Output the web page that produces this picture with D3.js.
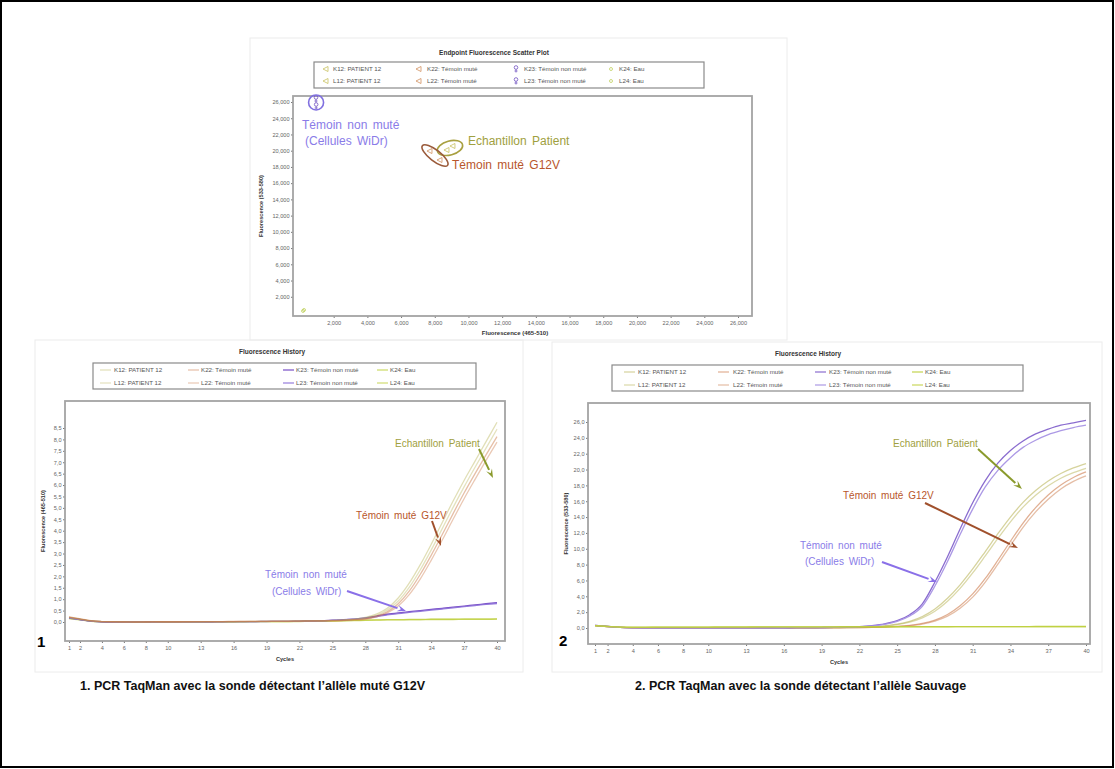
<!DOCTYPE html>
<html>
<head>
<meta charset="utf-8">
<script src="https://cdn.jsdelivr.net/npm/d3@7"></script>
<style>
body { margin: 0; background: #fff; }
svg { display: block; font-family: "Liberation Sans", Arial, sans-serif; }
</style>
</head>
<body>
<svg id="fig" width="1115" height="769"></svg>
<script>
// wells, same order in every legend
var wells = ["K12: PATIENT 12", "L12: PATIENT 12", "K22: Témoin muté", "L22: Témoin muté",
             "K23: Témoin non muté", "L23: Témoin non muté", "K24: Eau", "L24: Eau"];

var cycles = [1,2,3,4,5,6,7,8,9,10,11,12,13,14,15,16,17,18,19,20,
              21,22,23,24,25,26,27,28,29,30,31,32,33,34,35,36,37,38,39,40];
var cycleTicks = [1,2,4,6,8,10,13,16,19,22,25,28,31,34,37,40];

// endpoint scatter (465-510 vs 533-580)
var endX = [8725, 9080, 7716, 8310, 950, 960, 180, 240];
var endY = [20085, 20580, 19960, 18850, 26370, 25510, 250, 370];
var scatterTicks = [2000,4000,6000,8000,10000,12000,14000,16000,18000,20000,22000,24000,26000];

// fluorescence history, probe for mutated allele (465-510)
var mutTicks = [0,0.5,1,1.5,2,2.5,3,3.5,4,4.5,5,5.5,6,6.5,7,7.5,8,8.5];
var mutK12 = [0.20,0.13,0.05,0.02,0.01,0.01,0.00,0.00,0.01,0.01, 0.01,0.01,0.01,0.02,0.02,0.02,0.02,0.03,0.03,0.03,
              0.04,0.04,0.05,0.06,0.07,0.09,0.13,0.20,0.35,0.60, 1.05,1.70,2.50,3.40,4.35,5.30,6.20,7.05,7.90,8.75];
var mutL12 = [0.19,0.12,0.05,0.02,0.01,0.00,0.00,0.00,0.01,0.01, 0.01,0.01,0.01,0.01,0.02,0.02,0.02,0.02,0.03,0.03,
              0.03,0.04,0.05,0.05,0.06,0.08,0.11,0.16,0.30,0.52, 0.92,1.52,2.28,3.15,4.08,5.02,5.92,6.78,7.62,8.45];
var mutK22 = [0.22,0.14,0.06,0.02,0.01,0.01,0.00,0.01,0.01,0.01, 0.01,0.02,0.02,0.02,0.02,0.03,0.03,0.03,0.03,0.04,
              0.04,0.04,0.05,0.05,0.06,0.07,0.10,0.14,0.26,0.45, 0.80,1.35,2.08,2.92,3.82,4.75,5.65,6.50,7.32,8.12];
var mutL22 = [0.21,0.13,0.05,0.02,0.01,0.00,0.00,0.00,0.01,0.01, 0.01,0.01,0.02,0.02,0.02,0.02,0.03,0.03,0.03,0.03,
              0.03,0.04,0.04,0.05,0.05,0.06,0.09,0.12,0.22,0.40, 0.70,1.20,1.88,2.70,3.58,4.50,5.40,6.25,7.08,7.88];
var mutK23 = [0.18,0.11,0.04,0.01,0.00,0.00,0.00,0.00,0.01,0.01, 0.01,0.01,0.01,0.01,0.02,0.02,0.02,0.02,0.03,0.03,
              0.03,0.04,0.05,0.06,0.08,0.10,0.13,0.18,0.26,0.34, 0.40,0.45,0.50,0.55,0.60,0.65,0.70,0.75,0.80,0.85];
var mutL23 = [0.17,0.10,0.04,0.01,0.00,0.00,0.00,0.00,0.00,0.01, 0.01,0.01,0.01,0.01,0.01,0.02,0.02,0.02,0.02,0.03,
              0.03,0.03,0.04,0.05,0.07,0.09,0.12,0.16,0.23,0.31, 0.37,0.42,0.47,0.52,0.57,0.62,0.67,0.72,0.77,0.81];
var mutK24 = [0.16,0.10,0.04,0.01,0.00,0.00,0.00,0.00,0.00,0.00, 0.01,0.01,0.01,0.01,0.01,0.01,0.02,0.02,0.02,0.02,
              0.02,0.03,0.03,0.04,0.05,0.06,0.07,0.08,0.09,0.10, 0.10,0.11,0.11,0.12,0.12,0.12,0.13,0.13,0.13,0.14];
var mutL24 = [0.15,0.09,0.03,0.01,0.00,0.00,0.00,0.00,0.00,0.00, 0.00,0.01,0.01,0.01,0.01,0.01,0.01,0.02,0.02,0.02,
              0.02,0.02,0.03,0.03,0.04,0.05,0.06,0.07,0.08,0.09, 0.09,0.10,0.10,0.11,0.11,0.11,0.12,0.12,0.12,0.13];

// fluorescence history, probe for wild type allele (533-580)
var wtTicks = [0,2,4,6,8,10,12,14,16,18,20,22,24,26];
var wtK12 = [0.30,0.18,0.08,0.03,0.02,0.01,0.01,0.01,0.01,0.01, 0.01,0.01,0.02,0.02,0.02,0.02,0.03,0.03,0.04,0.05,
             0.07,0.10,0.16,0.28,0.48,0.85,1.45,2.40,3.75,5.45, 7.45,9.65,11.90,14.00,15.85,17.35,18.55,19.50,20.20,20.75];
var wtL12 = [0.28,0.17,0.07,0.03,0.02,0.01,0.01,0.01,0.01,0.01, 0.01,0.01,0.01,0.02,0.02,0.02,0.03,0.03,0.04,0.05,
             0.06,0.09,0.14,0.24,0.42,0.74,1.28,2.12,3.38,5.00, 6.95,9.10,11.30,13.40,15.25,16.75,17.95,18.90,19.60,20.15];
var wtK22 = [0.32,0.19,0.08,0.03,0.02,0.01,0.01,0.01,0.01,0.01, 0.01,0.01,0.01,0.02,0.02,0.02,0.02,0.03,0.03,0.04,
             0.04,0.06,0.08,0.12,0.20,0.34,0.58,1.00,1.70,2.80, 4.30,6.25,8.55,10.95,13.25,15.20,16.80,18.05,19.00,19.70];
var wtL22 = [0.31,0.18,0.08,0.03,0.02,0.01,0.01,0.01,0.01,0.01, 0.01,0.01,0.01,0.01,0.02,0.02,0.02,0.02,0.03,0.03,
             0.04,0.05,0.07,0.10,0.17,0.29,0.50,0.88,1.50,2.50, 3.90,5.80,8.05,10.40,12.70,14.65,16.25,17.55,18.50,19.20];
var wtK23 = [0.34,0.20,0.09,0.04,0.02,0.01,0.01,0.01,0.01,0.01, 0.02,0.02,0.02,0.02,0.03,0.03,0.04,0.05,0.06,0.08,
             0.11,0.17,0.30,0.52,0.92,1.68,3.05,5.80,9.00,12.50, 15.80,18.60,20.80,22.40,23.60,24.50,25.10,25.60,25.90,26.20];
var wtL23 = [0.33,0.19,0.08,0.03,0.02,0.01,0.01,0.01,0.01,0.01, 0.01,0.02,0.02,0.02,0.02,0.03,0.04,0.04,0.05,0.07,
             0.10,0.15,0.27,0.47,0.84,1.52,2.75,5.30,8.40,11.80, 15.00,17.80,19.90,21.50,22.80,23.70,24.40,24.90,25.30,25.60];
var wtK24 = [0.30,0.20,0.12,0.10,0.10,0.11,0.11,0.12,0.12,0.12, 0.13,0.13,0.13,0.14,0.14,0.14,0.15,0.15,0.15,0.15,
             0.16,0.16,0.16,0.16,0.17,0.17,0.17,0.17,0.17,0.18, 0.18,0.18,0.18,0.18,0.18,0.19,0.19,0.19,0.19,0.19];
var wtL24 = [0.29,0.19,0.11,0.09,0.09,0.10,0.10,0.11,0.11,0.11, 0.12,0.12,0.12,0.13,0.13,0.13,0.14,0.14,0.14,0.14,
             0.15,0.15,0.15,0.15,0.16,0.16,0.16,0.16,0.16,0.17, 0.17,0.17,0.17,0.17,0.17,0.18,0.18,0.18,0.18,0.18];

// styles per well
var mutColors = ["#b4ae4c", "#b8b454", "#c8703c", "#cc7c4c", "#6a3cc0", "#8c70d8", "#b8cc30", "#c0d040"];
var mutOpac   = [0.4, 0.38, 0.45, 0.42, 0.9, 0.9, 0.75, 0.75];
var wtColors  = ["#b4ae4c", "#b8b454", "#c8703c", "#cc7c4c", "#8464cc", "#a894e4", "#b8cc30", "#c0d040"];
var wtOpac    = [0.55, 0.5, 0.55, 0.5, 0.95, 0.95, 0.85, 0.85];
var symColors = ["#c8c060", "#c8c060", "#d09060", "#d09060", "#7050c0", "#7050c0", "#c0d060", "#c0d060"];
var symKinds  = ["tri", "tri", "tri", "tri", "fem", "fem", "dot", "dot"];

var frFmt = d3.formatLocale({decimal: ",", thousands: ".", grouping: [3], currency: ["", ""]}).format(".1f");

var svg = d3.select("#fig");
svg.append("rect").attr("x", 1).attr("y", 1).attr("width", 1112).attr("height", 766)
    .attr("fill", "#fff").attr("stroke", "#000").attr("stroke-width", 2);

// faint panel outlines
[[250, 38, 537, 302], [35, 340, 488, 332], [552, 342, 550, 330]].forEach(function (p) {
    svg.append("rect").attr("x", p[0]).attr("y", p[1]).attr("width", p[2]).attr("height", p[3])
        .attr("fill", "none").attr("stroke", "#ececec");
});

function symbol(g, kind, cx, cy, color) {
    if (kind == "tri") {
        g.append("path").attr("d", "M" + (cx - 3) + "," + cy + "L" + (cx + 2) + "," + (cy - 2.5) + "L" + (cx + 2) + "," + (cy + 2.5) + "Z")
            .attr("fill", "none").attr("stroke", color).attr("stroke-width", 0.8);
    } else if (kind == "fem") {
        g.append("circle").attr("cx", cx).attr("cy", cy - 1.5).attr("r", 1.8)
            .attr("fill", "none").attr("stroke", color).attr("stroke-width", 0.8);
        g.append("path").attr("d", "M" + cx + "," + (cy + 0.3) + "V" + (cy + 3.5) + "M" + (cx - 1.5) + "," + (cy + 2) + "H" + (cx + 1.5))
            .attr("stroke", color).attr("stroke-width", 0.8);
    } else {
        g.append("circle").attr("cx", cx).attr("cy", cy).attr("r", 1.5)
            .attr("fill", "none").attr("stroke", color).attr("stroke-width", 0.8);
    }
}

function arrow(x1, y1, x2, y2, color) {
    var a = Math.atan2(y2 - y1, x2 - x1), L = 9, W = 3.2;
    var bx = x2 - L * Math.cos(a), by = y2 - L * Math.sin(a);
    svg.append("line").attr("x1", x1).attr("y1", y1).attr("x2", bx).attr("y2", by)
        .attr("stroke", color).attr("stroke-width", 2);
    svg.append("path")
        .attr("d", "M" + x2 + "," + y2 +
            "L" + (bx - W * Math.sin(a)) + "," + (by + W * Math.cos(a)) +
            "L" + (x2 - 0.6 * L * Math.cos(a)) + "," + (y2 - 0.6 * L * Math.sin(a)) +
            "L" + (bx + W * Math.sin(a)) + "," + (by - W * Math.cos(a)) + "Z")
        .attr("fill", color);
}

function note(x, y, txt, color, size) {
    svg.append("text").attr("x", x).attr("y", y).attr("fill", color)
        .attr("font-size", size).attr("word-spacing", 2).text(txt);
}

function legendBox(box, colLine, colText, rows, colors, opac) {
    svg.append("rect").attr("x", box[0]).attr("y", box[1]).attr("width", box[2]).attr("height", box[3])
        .attr("fill", "#fff").attr("stroke", "#8a8a8a").attr("stroke-width", 1.2);
    wells.forEach(function (w, i) {
        var c = Math.floor(i / 2), r = i % 2;
        if (colors) {
            svg.append("line").attr("x1", colLine[c]).attr("x2", colLine[c] + 11)
                .attr("y1", rows[r] - 2).attr("y2", rows[r] - 2)
                .attr("stroke", colors[i]).attr("stroke-opacity", opac[i]).attr("stroke-width", 1.2);
        } else {
            symbol(svg, symKinds[i], colLine[c], rows[r] - 2, symColors[i]);
        }
        svg.append("text").attr("x", colText[c]).attr("y", rows[r]).attr("font-size", 6.2)
            .attr("fill", "#555").text(w);
    });
}

function styleAxis(g) {
    g.select(".domain").remove();
    g.selectAll(".tick line").attr("stroke", "#777");
    g.selectAll(".tick text").attr("fill", "#666").attr("font-size", 5.6)
        .attr("font-family", "Liberation Sans, Arial, sans-serif");
}

// ---------- scatter plot ----------
(function () {
    var L = 293, R = 752, T = 96, B = 316;
    var x = d3.scaleLinear().domain([-415, 26830]).range([L, R]);
    var y = d3.scaleLinear().domain([-370, 26740]).range([B, T]);

    svg.append("text").attr("x", 494).attr("y", 55).attr("text-anchor", "middle")
        .attr("font-size", 6.5).attr("font-weight", "bold").attr("fill", "#333")
        .text("Endpoint Fluorescence Scatter Plot");
    legendBox([314, 62, 390, 26], [326, 419, 516, 611], [333, 427, 524, 619], [71, 83], null, null);

    svg.append("g").attr("transform", "translate(" + L + ",0)")
        .call(d3.axisLeft(y).tickValues(scatterTicks).tickFormat(d3.format(",")).tickSize(2).tickPadding(1.5))
        .call(styleAxis);
    svg.append("g").attr("transform", "translate(0," + B + ")")
        .call(d3.axisBottom(x).tickValues(scatterTicks).tickFormat(d3.format(",")).tickSize(2).tickPadding(3))
        .call(styleAxis);
    svg.append("rect").attr("x", L).attr("y", T).attr("width", R - L).attr("height", B - T)
        .attr("fill", "none").attr("stroke", "#a4a4a4").attr("stroke-width", 1.8);

    svg.append("text").attr("x", 515).attr("y", 335).attr("text-anchor", "middle")
        .attr("font-size", 6).attr("font-weight", "bold").attr("fill", "#333")
        .text("Fluorescence (465-510)");
    svg.append("text").attr("transform", "translate(263,206) rotate(-90)").attr("text-anchor", "middle")
        .attr("font-size", 5.6).attr("font-weight", "bold").attr("fill", "#333")
        .text("Fluorescence (533-580)");

    endX.forEach(function (v, i) {
        symbol(svg, symKinds[i], x(v), y(endY[i]), symColors[i]);
    });

    // group circles drawn around the pairs
    function mid(i) { return [(x(endX[i]) + x(endX[i + 1])) / 2, (y(endY[i]) + y(endY[i + 1])) / 2]; }
    var p = mid(0), m = mid(2), n = mid(4);
    svg.append("ellipse").attr("transform", "translate(" + p[0] + "," + p[1] + ") rotate(-15)")
        .attr("rx", 13).attr("ry", 7).attr("fill", "none").attr("stroke", "#a8a040").attr("stroke-width", 1.6);
    svg.append("ellipse").attr("transform", "translate(" + m[0] + "," + m[1] + ") rotate(38)")
        .attr("rx", 16).attr("ry", 5.5).attr("fill", "none").attr("stroke", "#9a5a3a").attr("stroke-width", 1.6);
    svg.append("circle").attr("cx", n[0]).attr("cy", n[1]).attr("r", 7.5)
        .attr("fill", "none").attr("stroke", "#8070e0").attr("stroke-width", 1.6);

    note(302, 129, "Témoin non muté", "#8a7ce8", 12);
    note(305, 145, "(Cellules WiDr)", "#8a7ce8", 12);
    note(468, 145, "Echantillon Patient", "#a0a040", 12);
    note(452, 169, "Témoin muté G12V", "#b8562c", 12);
})();

// ---------- fluorescence history ----------
function drawHistory(o) {
    var x = d3.scaleLinear().domain([1, 40]).range(o.xAnchor);
    var y = d3.scaleLinear().domain([0, o.yTop]).range(o.yAnchor);

    svg.append("text").attr("x", o.titleX).attr("y", o.titleY).attr("text-anchor", "middle")
        .attr("font-size", 6.5).attr("font-weight", "bold").attr("fill", "#333")
        .text("Fluorescence History");
    legendBox(o.box, o.colLine, o.colText, o.rows, o.colors, o.opac);

    var clipId = "clip" + o.id;
    svg.append("clipPath").attr("id", clipId).append("rect")
        .attr("x", o.L).attr("y", o.T).attr("width", o.R - o.L).attr("height", o.B - o.T);

    var line = d3.line().x(function (d, i) { return x(cycles[i]); })
        .y(function (d) { return y(d); }).curve(d3.curveMonotoneX);
    var lg = svg.append("g").attr("clip-path", "url(#" + clipId + ")");
    o.order.forEach(function (i) {
        lg.append("path").attr("d", line(o.series[i])).attr("fill", "none")
            .attr("stroke", o.colors[i]).attr("stroke-opacity", o.opac[i]).attr("stroke-width", 1.3);
    });

    svg.append("g").attr("transform", "translate(" + o.L + ",0)")
        .call(d3.axisLeft(y).tickValues(o.yTicks).tickFormat(frFmt).tickSize(2).tickPadding(1.5))
        .call(styleAxis);
    svg.append("g").attr("transform", "translate(0," + o.B + ")")
        .call(d3.axisBottom(x).tickValues(cycleTicks).tickFormat(d3.format("d")).tickSize(2).tickPadding(3))
        .call(styleAxis);
    svg.append("rect").attr("x", o.L).attr("y", o.T).attr("width", o.R - o.L).attr("height", o.B - o.T)
        .attr("fill", "none").attr("stroke", "#a4a4a4").attr("stroke-width", 1.8);

    svg.append("text").attr("x", (o.L + o.R) / 2).attr("y", o.B + 20).attr("text-anchor", "middle")
        .attr("font-size", 5.6).attr("font-weight", "bold").attr("fill", "#333").text("Cycles");
    svg.append("text").attr("transform", "translate(" + o.yLabX + "," + (o.T + o.B) / 2 + ") rotate(-90)")
        .attr("text-anchor", "middle").attr("font-size", 5.6).attr("font-weight", "bold").attr("fill", "#333")
        .text(o.yLabel);
}

drawHistory({
    id: "mut", L: 65, R: 505, T: 401, B: 641,
    xAnchor: [69, 497], yTop: 8.5, yAnchor: [622, 428], yTicks: mutTicks,
    series: [mutK12, mutL12, mutK22, mutL22, mutK23, mutL23, mutK24, mutL24],
    colors: mutColors, opac: mutOpac, order: [6, 7, 4, 5, 0, 1, 2, 3],
    titleX: 272, titleY: 354, box: [93, 363, 383, 26],
    colLine: [100, 188, 283, 377], colText: [114, 201, 296, 390], rows: [372, 385],
    yLabX: 45, yLabel: "Fluorescence (465-510)"
});

drawHistory({
    id: "wt", L: 588, R: 1090, T: 403, B: 644,
    xAnchor: [595, 1086], yTop: 26, yAnchor: [628, 422], yTicks: wtTicks,
    series: [wtK12, wtL12, wtK22, wtL22, wtK23, wtL23, wtK24, wtL24],
    colors: wtColors, opac: wtOpac, order: [0, 1, 2, 3, 4, 5, 6, 7],
    titleX: 808, titleY: 356, box: [612, 365, 411, 26],
    colLine: [624, 718, 815, 912], colText: [638, 733, 829, 925], rows: [374, 387],
    yLabX: 568, yLabel: "Fluorescence (533-580)"
});

// annotations on the history charts
note(395, 447, "Echantillon Patient", "#a0a040", 10);
arrow(479, 449, 493, 478, "#8a9a2c");
note(356, 519, "Témoin muté G12V", "#b8562c", 10);
arrow(432, 521, 441, 546, "#a0502c");
note(265, 578, "Témoin non muté", "#8a7ce8", 10);
note(272, 595, "(Cellules WiDr)", "#8a7ce8", 10);
arrow(347, 591, 406, 611, "#8a70e8");

note(893, 447, "Echantillon Patient", "#a0a040", 10);
arrow(978, 449, 1022, 489, "#8a9a2c");
note(843, 499, "Témoin muté G12V", "#b8562c", 10);
arrow(925, 503, 1018, 548, "#a0502c");
note(800, 549, "Témoin non muté", "#8a7ce8", 10);
note(805, 565, "(Cellules WiDr)", "#8a7ce8", 10);
arrow(882, 562, 937, 582, "#8a70e8");

// panel numbers and captions
svg.append("text").attr("x", 37).attr("y", 647).attr("font-size", 15).attr("font-weight", "bold").text("1");
svg.append("text").attr("x", 559).attr("y", 646).attr("font-size", 15).attr("font-weight", "bold").text("2");
svg.append("text").attr("x", 80).attr("y", 690).attr("font-size", 12.5).attr("font-weight", "bold").attr("fill", "#111")
    .text("1. PCR TaqMan avec la sonde détectant l’allèle muté G12V");
svg.append("text").attr("x", 635).attr("y", 690).attr("font-size", 12.5).attr("font-weight", "bold").attr("fill", "#111")
    .text("2. PCR TaqMan avec la sonde détectant l’allèle Sauvage");
</script>
</body>
</html>
